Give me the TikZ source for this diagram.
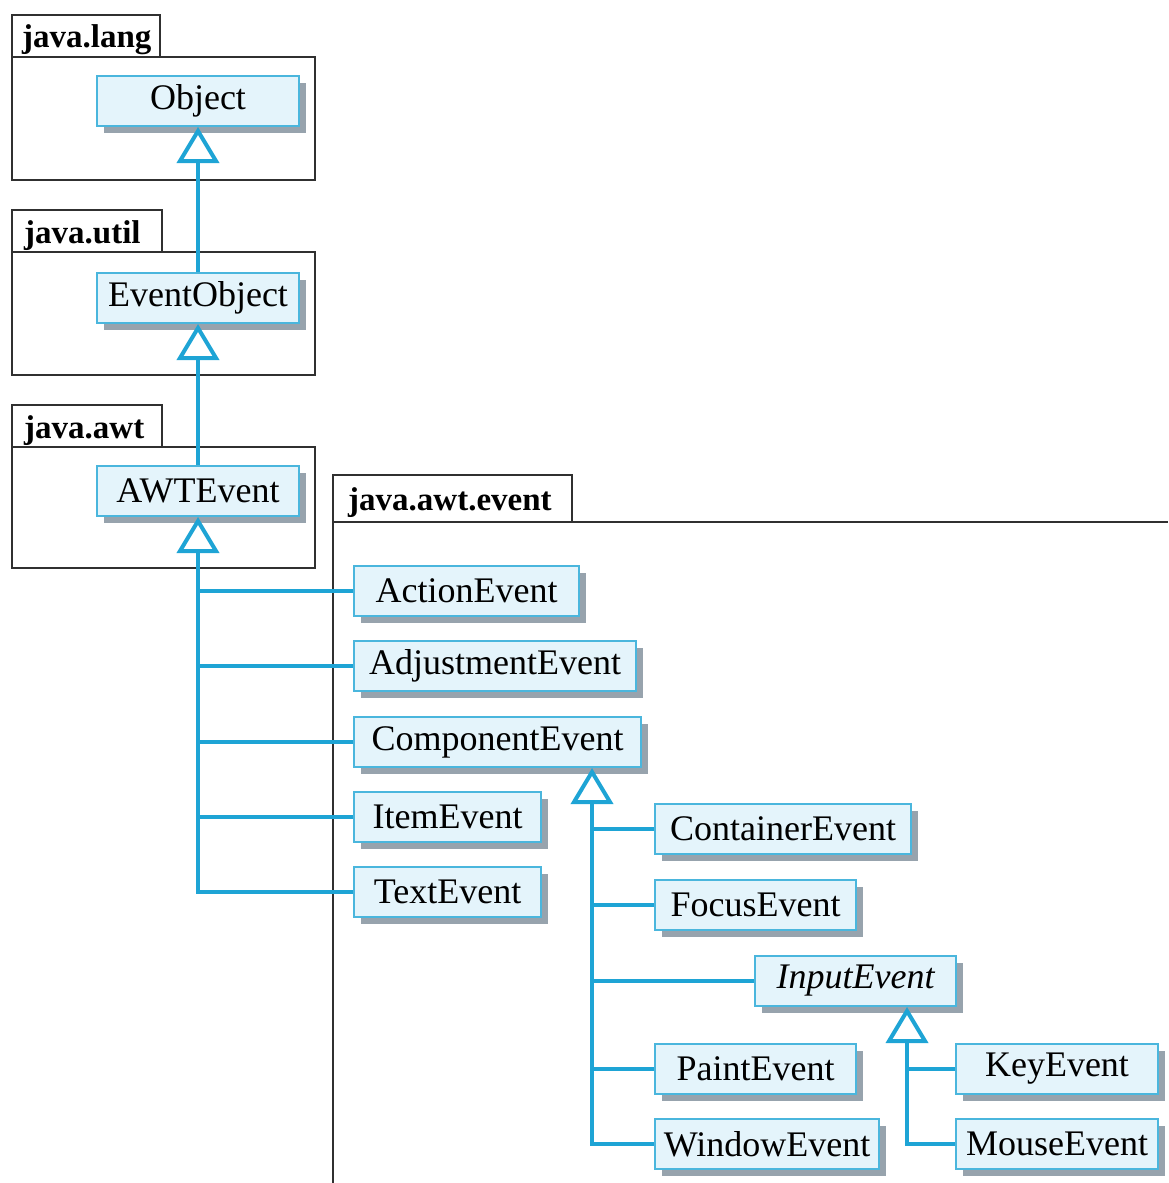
\documentclass[tikz,border=0pt]{standalone}
\usepackage{fontspec}
\setmainfont{Liberation Serif}
\usetikzlibrary{arrows.meta,shadows}
\definecolor{umlcyan}{HTML}{1EA4D5}
\definecolor{boxedge}{HTML}{4AB6DD}
\definecolor{boxfill}{HTML}{E4F4FB}
\definecolor{shadowgray}{HTML}{97A3AD}
\definecolor{pkgline}{HTML}{303030}
\tikzset{
  cls/.style={draw=boxedge, fill=boxfill, line width=2pt, minimum height=50pt,
    inner sep=0pt, anchor=north west, font=\fontsize{36}{40}\selectfont,
    drop shadow={shadow xshift=7pt, shadow yshift=-7pt, fill=shadowgray, opacity=1}},
  pkg/.style={draw=pkgline, line width=1.6pt},
  pkglabel/.style={anchor=base west, inner sep=0pt, font=\bfseries\fontsize{33}{36}\selectfont},
  link/.style={draw=umlcyan, line width=4pt},
  inh/.style={link, -{Triangle[fill=white, length=36pt, width=42pt]}},
}
\begin{document}
\begin{tikzpicture}[x=1pt, y=-1pt]
\useasboundingbox (0,0) rectangle (1168,1183);

% packages
\draw[pkg] (12,15) rectangle (160,57);
\draw[pkg] (12,57) rectangle (315,180);
\node[pkglabel] (plang) at (22,47) {java.lang};

\draw[pkg] (12,210) rectangle (162,252);
\draw[pkg] (12,252) rectangle (315,375);
\node[pkglabel] (putil) at (24,243) {java.util};

\draw[pkg] (12,405) rectangle (162,447);
\draw[pkg] (12,447) rectangle (315,568);
\node[pkglabel] (pawt) at (24,438) {java.awt};

\draw[pkg] (333,475) rectangle (572,522);
\draw[pkg] (333,1183) -- (333,522) -- (1168,522);
\node[pkglabel] (pevent) at (348,510) {java.awt.event};

% classes
\node[cls, minimum width=202pt] (obj) at (96,75) {Object};
\node[cls, minimum width=202pt] (eo) at (96,272) {EventObject};
\node[cls, minimum width=202pt] (awt) at (96,465) {AWTEvent};

\node[cls, minimum width=225pt] (action) at (353,565) {ActionEvent};
\node[cls, minimum width=282pt] (adjust) at (353,640) {AdjustmentEvent};
\node[cls, minimum width=287pt] (comp) at (353,716) {ComponentEvent};
\node[cls, minimum width=187pt] (item) at (353,791) {ItemEvent};
\node[cls, minimum width=187pt] (text) at (353,866) {TextEvent};

\node[cls, minimum width=256pt] (cont) at (654,803) {ContainerEvent};
\node[cls, minimum width=201pt] (focus) at (654,879) {FocusEvent};
\node[cls, minimum width=201pt] (input) at (754,955) {\itshape InputEvent};
\node[cls, minimum width=201pt] (paint) at (654,1043) {PaintEvent};
\node[cls, minimum width=224pt] (window) at (654,1118) {WindowEvent};

\node[cls, minimum width=202pt] (key) at (955,1043) {KeyEvent};
\node[cls, minimum width=202pt] (mouse) at (955,1118) {MouseEvent};

% attachment points of the inheritance trunks
\path (comp.south east) ++(-50,0) coordinate (compb);
\path (input.south east) ++(-50,0) coordinate (inputb);

% inheritance
\draw[inh] (eo.north) -- (obj.south);
\draw[inh] (awt.north) -- (eo.south);

\draw[link] (action.west) -- (action.west -| awt.south);
\draw[link] (adjust.west) -- (adjust.west -| awt.south);
\draw[link] (comp.west) -- (comp.west -| awt.south);
\draw[link] (item.west) -- (item.west -| awt.south);
\draw[inh] (text.west) -| (awt.south);

\draw[link] (cont.west) -- (cont.west -| compb);
\draw[link] (focus.west) -- (focus.west -| compb);
\draw[link] (input.west) -- (input.west -| compb);
\draw[link] (paint.west) -- (paint.west -| compb);
\draw[inh] (window.west) -| (compb);

\draw[link] (key.west) -- (key.west -| inputb);
\draw[inh] (mouse.west) -| (inputb);
\end{tikzpicture}
\end{document}
